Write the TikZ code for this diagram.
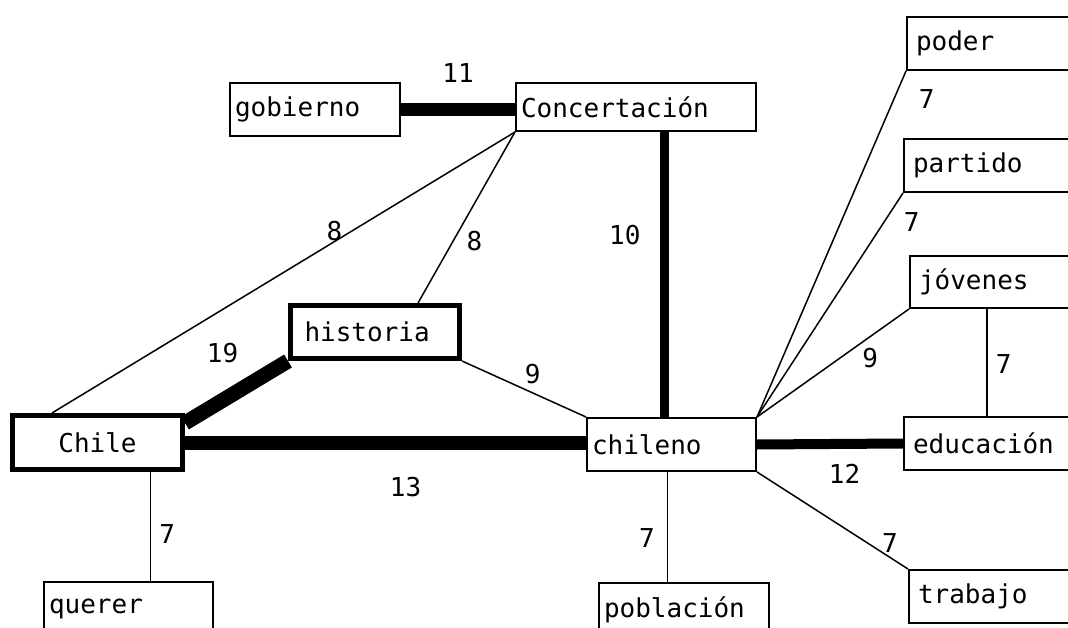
\documentclass[tikz,border=0pt]{standalone}
\usepackage{fontspec}
\setmonofont{DejaVu Sans Mono}

\begin{document}
\begin{tikzpicture}[x=1pt, y=-1pt,
  every node/.style={font=\ttfamily\fontsize{26}{30}\selectfont},
  box/.style={draw, line width=2pt, anchor=north west, align=left,
              minimum height=53pt, inner xsep=5pt, inner ysep=0pt, text width=#1},
  box/.default=159pt,
  rbox/.style={box=176pt, inner xsep=9pt},
  heavy/.style={line width=5pt},
  rel/.style={line width=1.5pt},
  w/.style={line width=#1},
  lab/.style={inner sep=0pt}
]
\useasboundingbox (0,0) rectangle (1068,628);
\clip (0,0) rectangle (1068,628);

\node[box=160pt] (gob) at (229,82) {gobierno};
\node[box=230pt, minimum height=48pt] (conc) at (515,82) {Concertación};
\node[box=141pt, heavy, inner xsep=14pt] (hist) at (288,303) {historia};
\node[box=160pt, heavy, align=center, minimum height=54pt] (chile) at (10,413) {Chile};
\node[box] (chileno) at (586,417) {chileno};
\node[box] (querer) at (43,581) {querer};
\node[box=160pt] (pob) at (598,582) {población};
\node[rbox] (poder) at (906,16) {poder};
\node[rbox] (partido) at (903,138) {partido};
\node[rbox, minimum height=52pt] (jov) at (909,255) {jóvenes};
\node[rbox] (edu) at (903,416) {educación};
\node[rbox] (trab) at (908,569) {trabajo};

% strong links
\draw[w=13pt] (gob.east) -- node[lab, above=20pt] {11} (gob.east -| conc.west);
\draw[w=9pt] ([xshift=28pt]conc.south) -- node[lab, pos=.36, left=19pt] {10} ([xshift=28pt]conc.south |- chileno.north);
\draw[w=15pt] (hist.south west) -- node[lab, pos=.41, anchor=south east, yshift=16pt] {19} ([yshift=-10pt]chile.north east);
\draw[w=14pt] (chile.east) -- node[lab, pos=.55, below=28pt] {13} (chile.east -| chileno.west);
\draw[w=10pt] (chileno.east) -- node[lab, pos=.6, below=15pt] {12} (edu.west);

% weak links
\draw[rel] (conc.south west) -- node[lab, pos=.39, above] {8} ([xshift=42pt]chile.north west);
\draw[rel] (conc.south west) -- node[lab, pos=.64, right=13pt] {8} ([xshift=130pt]hist.north west);
\draw[rel] (hist.south east) -- node[lab, pos=.5, anchor=south west, yshift=4pt] {9} (chileno.north west);
\draw[rel] ([xshift=53pt]chile.south) -- node[lab, pos=.57, right=8pt] {7} ([xshift=53pt]chile.south |- querer.north);
\draw[rel] ([xshift=-4pt]chileno.south) -- node[lab, pos=.6, left=12pt] {7} ([xshift=-4pt]chileno.south |- pob.north);
\draw[rel] (chileno.north east) -- node[lab, pos=.92, right=24pt] {7} (poder.south west);
\draw[rel] (chileno.north east) -- node[lab, pos=.87, right=19pt] {7} (partido.south west);
\draw[rel] (chileno.north east) -- node[lab, pos=.55, right=21pt] {9} (jov.south west);
\draw[rel] (chileno.south east) -- node[lab, pos=.88, above=4pt] {7} (trab.north west);
\draw[rel] ([xshift=78pt]jov.south west) -- node[lab, pos=.51, right=8pt] {7} ([xshift=78pt]jov.south west |- edu.north);
\end{tikzpicture}
\end{document}
